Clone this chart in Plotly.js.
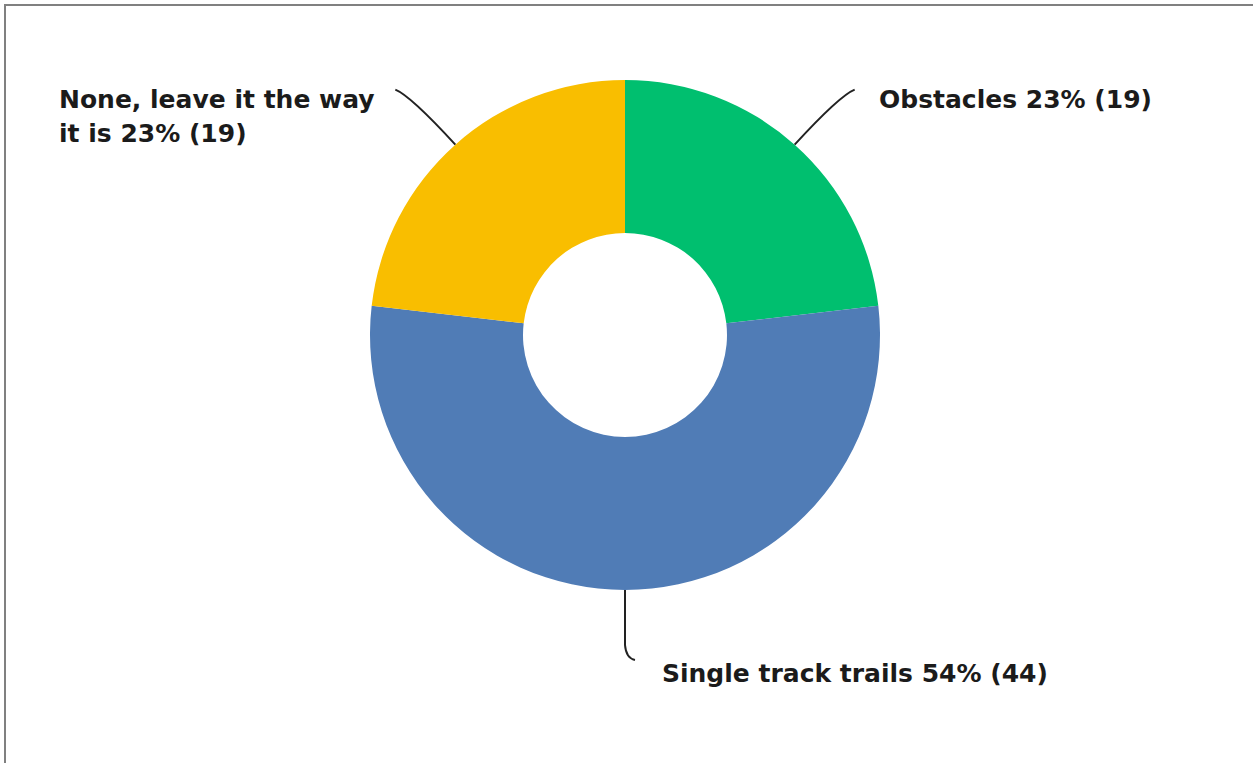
<!DOCTYPE html>
<html>
<head>
<meta charset="utf-8">
<script src="https://cdn.plot.ly/plotly-3.0.1.min.js"></script>
<style>html,body{margin:0;padding:0;background:#fff;}#chart{width:1253px;height:763px;}</style>
</head>
<body>
<div id="chart"></div>
<script>
// Data
const categories = ["Obstacles", "Single track trails", "None, leave it the way it is"];
const labelLines = [["Obstacles"], ["Single track trails"], ["None, leave it the way", "it is"]];
const counts = [19, 44, 19];
const colors = ["#00BF6F", "#507CB6", "#F9BE00"];

const W = 1253, H = 763;
const cx = 625, cy = 335, R = 255;
const total = counts.reduce((a, b) => a + b, 0);
const pct = counts.map(v => Math.round(100 * v / total));

const px = x => x / W;
const py = y => 1 - y / H;

// slice mid angles (clockwise from 12 o'clock)
let cum = 0;
const mids = counts.map(v => { const m = (cum + v / 2) / total * 2 * Math.PI; cum += v; return m; });
const edge = mids.map(a => [cx + R * Math.sin(a), cy - R * Math.cos(a)]);

const shapes = [];
const annotations = [];
const font = {family: "DejaVu Sans, sans-serif", size: 25, color: "#1b1b1b", weight: 700};
const lineGap = 34;
const leader = {color: "#222", width: 2};

function addLabel(i, x, yFirst) {
  const lines = labelLines[i].slice();
  lines[lines.length - 1] += ` ${pct[i]}% (${counts[i]})`;
  lines.forEach((t, k) => {
    annotations.push({xref: "paper", yref: "paper", x: px(x), y: py(yFirst + k * lineGap),
      xanchor: "left", yanchor: "middle", showarrow: false, align: "left", font: font, text: t});
  });
}

// Obstacles (right, upper)
{
  const [sx, sy] = edge[0];
  const ex = sx + 60, ey = sy - 55;
  shapes.push({type: "path", xref: "paper", yref: "paper",
    path: `M ${px(sx)} ${py(sy)} Q ${px(sx + 45)} ${py(ey + 6)} ${px(ex)} ${py(ey)}`,
    line: leader});
  addLabel(0, ex + 22, ey + 10);
}
// None (left, upper)
{
  const [sx, sy] = edge[2];
  const ex = sx - 60, ey = sy - 55;
  shapes.push({type: "path", xref: "paper", yref: "paper",
    path: `M ${px(sx)} ${py(sy)} Q ${px(sx - 45)} ${py(ey + 6)} ${px(ex)} ${py(ey)}`,
    line: leader});
  addLabel(2, 57, ey + 10);
}
// Single track (bottom)
{
  const [sx, sy] = edge[1];
  const ex = sx + 10, ey = sy + 70;
  shapes.push({type: "path", xref: "paper", yref: "paper",
    path: `M ${px(sx)} ${py(sy)} L ${px(sx)} ${py(sy + 55)} Q ${px(sx + 1)} ${py(ey - 2)} ${px(ex)} ${py(ey)}`,
    line: leader});
  addLabel(1, ex + 25, ey + 13);
}

// Frame (top and left only, as in reference)
shapes.push({type: "path", xref: "paper", yref: "paper",
  path: `M ${px(5)} ${py(H + 5)} L ${px(5)} ${py(5)} L ${px(W + 5)} ${py(5)}`,
  line: {color: "#808080", width: 2}});

const trace = {
  type: "pie",
  labels: categories,
  values: counts,
  hole: 0.4,
  sort: false,
  direction: "clockwise",
  rotation: 0,
  textinfo: "none",
  hoverinfo: "label+percent+value",
  marker: {colors: colors, line: {width: 0}},
  domain: {x: [px(cx - R), px(cx + R)], y: [py(cy + R), py(cy - R)]},
  showlegend: false
};

Plotly.newPlot("chart", [trace], {
  width: W, height: H,
  margin: {l: 0, r: 0, t: 0, b: 0},
  paper_bgcolor: "#fff",
  showlegend: false,
  shapes: shapes,
  annotations: annotations
}, {displayModeBar: false, staticPlot: true});
</script>
</body>
</html>
